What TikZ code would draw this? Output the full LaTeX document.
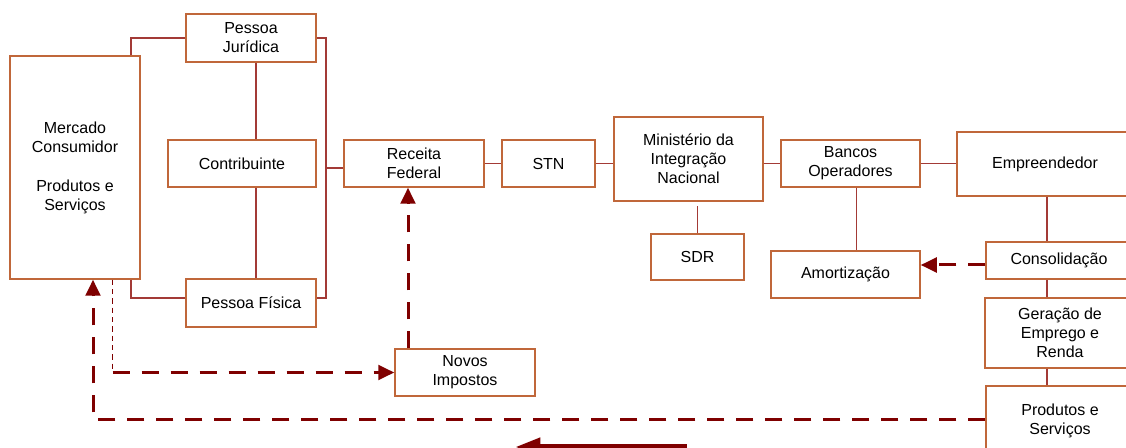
\documentclass[tikz,border=0pt]{standalone}
\usepackage{fontspec}
\setmainfont{Liberation Sans}
\usetikzlibrary{arrows.meta,calc}
\definecolor{boxc}{HTML}{C0673A}
\definecolor{linec}{HTML}{A33A36}
\definecolor{dashc}{HTML}{7F0000}
\begin{document}
\begin{tikzpicture}[x=0.75pt,y=-0.75pt,
  bx/.style={draw=boxc, line width=1.1pt, inner sep=0pt, align=center,
    font=\fontsize{12}{14.25}\selectfont, text=black},
  wh/.style 2 args={minimum width=#1*0.75pt, minimum height=#2*0.75pt},
  ln/.style={draw=linec, line width=1pt},
  darr/.style={draw=dashc, line width=2.25pt, dash pattern=on 12.75pt off 9pt,
    -{Triangle[length=12pt,width=11pt]}},
  thd/.style={draw=dashc, line width=0.7pt, dash pattern=on 4pt off 3pt},
  bigarr/.style={draw=dashc, line width=4.5pt, -{Triangle[length=19pt,width=13pt]}}
]
\useasboundingbox (0,0) rectangle (1126,448);
\clip (0,0) rectangle (1126,448);

% nodes
\node[bx, wh={130}{223}] (merc) at (75,167.5) {Mercado\\Consumidor\\[15pt]Produtos e\\Serviços};
\node[bx, wh={130}{48}] (pj) at (251,38) {Pessoa\\Jurídica};
\node[bx, wh={148}{47}] (contr) at (242,163.5) {Contribuinte};
\node[bx, wh={130}{48}] (pf) at (251,303) {Pessoa Física};
\node[bx, wh={140}{47}] (rf) at (414,163.5) {Receita\\Federal};
\node[bx, wh={93}{47}] (stn) at (548.5,163.5) {STN};
\node[bx, wh={149}{84}] (min) at (688.5,159) {Ministério da\\Integração\\Nacional};
\node[bx, wh={93}{46}] (sdr) at (697.5,257) {SDR};
\node[bx, wh={139}{47}] (banc) at (850.5,163.5) {Bancos\\Operadores};
\node[bx, wh={149}{47}] (amort) at (845.5,274.5) {Amortização};
\node[bx, wh={176}{64}] (empr) at (1045,164) {Empreendedor};
\node[bx, wh={146}{37}] (cons) at (1059,260.5) {Consolidação};
\node[bx, wh={150}{70}] (ger) at (1060,333) {Geração de\\Emprego e\\Renda};
\node[bx, wh={148}{70}] (prod) at (1060,421) {Produtos e\\Serviços};
\node[bx, wh={140}{47}] (novos) at (465,372.5) {Novos\\Impostos};

% solid connectors
\draw[ln] ([xshift=42pt]merc.north) |- (pj.west);
\draw[ln] ([xshift=42pt]merc.south) |- ([yshift=3.75pt]pf.west);
\draw[ln] ([xshift=3.75pt]pj.south) -- ([xshift=3.75pt]pj.south |- contr.north);
\draw[ln] ([xshift=3.75pt]pj.south |- contr.south) -- ([xshift=3.75pt]pj.south |- pf.north);
\coordinate (br) at (326,168);
\draw[ln] (pj.east) -| (br) |- ([yshift=3.75pt]pf.east);
\draw[ln] (br) -- (br -| rf.west);
\draw[ln] (rf.east) -- (stn.west);
\draw[ln] (stn.east) -- (stn.east -| min.west);
\draw[ln] (min.east |- banc.west) -- (banc.west);
\draw[ln] (banc.east) -- (banc.east -| empr.west);
\draw[ln] (sdr.north) -- ([yshift=-3pt]sdr.north |- min.south);
\draw[ln] ([xshift=4.5pt]banc.south) -- ([xshift=4.5pt]banc.south |- amort.north);
\coordinate (rx) at (1047,0);
\draw[ln] (rx |- empr.south) -- (rx |- cons.north);
\draw[ln] (rx |- cons.south) -- (rx |- ger.north);
\draw[ln] (rx |- ger.south) -- (rx |- prod.north);

% dashed arrows
\draw[darr] ([yshift=1.5pt]prod.west) -| ([xshift=13.5pt]merc.south);
\coordinate (c2) at ([xshift=28.125pt]merc.south |- novos.west);
\draw[thd] ([xshift=28.125pt]merc.south) -- (c2);
\draw[darr] (c2) -- (novos.west);
\draw[darr] ([xshift=-42.75pt]novos.north) -- ([xshift=-42.75pt]novos.north |- rf.south);
\draw[darr] ([yshift=-3.375pt]cons.west) -- ([yshift=-3.375pt]cons.west -| amort.east);

% bottom solid arrow
\coordinate (bs) at (687,447);
\coordinate (be) at (515,447);
\draw[bigarr] (bs) -- (be);
\end{tikzpicture}
\end{document}
